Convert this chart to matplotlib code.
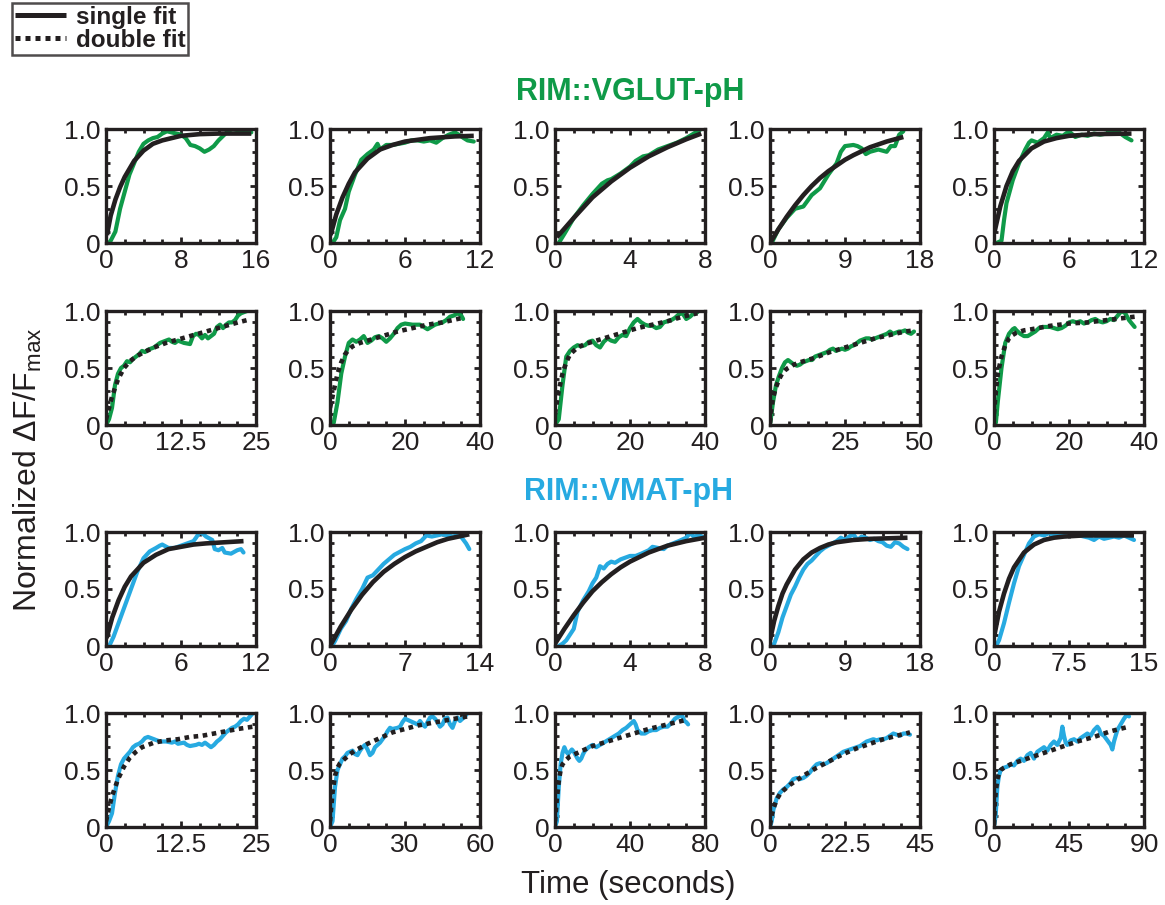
import matplotlib
matplotlib.use("Agg")
import matplotlib.pyplot as plt
from matplotlib.lines import Line2D
from matplotlib.ticker import MultipleLocator

plt.rcParams["font.family"] = ["Liberation Sans", "DejaVu Sans"]
plt.rcParams["mathtext.fontset"] = "custom"
plt.rcParams["mathtext.rm"] = "Liberation Sans"

GREEN = "#0f9a48"
BLUE = "#27aae1"
INK = "#231f20"

# ---------------- RIM::VGLUT-pH, single exponential fits ----------------
g1_t = [0.3, 0.5, 1, 1.5, 2, 2.5, 3, 3.5, 4, 4.5, 5, 5.5, 6, 6.5, 7, 7.5, 8, 8.5, 9, 9.5, 10, 10.5, 11, 11.5, 12, 12.5, 13, 13.5, 14, 14.5, 15, 15.5]
g1_y = [0, 0.02, 0.1, 0.3, 0.45, 0.6, 0.7, 0.8, 0.87, 0.9, 0.92, 0.93, 0.96, 0.98, 0.97, 0.96, 0.95, 0.92, 0.86, 0.85, 0.83, 0.8, 0.82, 0.85, 0.9, 0.94, 0.98, 1.0, 0.99, 0.98, 0.97, 0.97]
g1_fit_t = [0.1, 0.5, 1, 1.5, 2, 3, 4, 5, 6, 8, 10, 12, 15.5]
g1_fit_y = [0.07, 0.24, 0.38, 0.49, 0.58, 0.72, 0.81, 0.87, 0.9, 0.94, 0.955, 0.96, 0.96]

g2_t = [0.2, 0.5, 0.8, 1.2, 1.5, 2, 2.5, 3, 3.5, 3.8, 4, 4.5, 5, 5.5, 6, 6.5, 7, 7.5, 8, 8.5, 9, 9.5, 10, 10.3, 10.7, 11, 11.5]
g2_y = [0, 0.05, 0.2, 0.3, 0.45, 0.6, 0.73, 0.78, 0.82, 0.87, 0.82, 0.86, 0.86, 0.87, 0.88, 0.9, 0.9, 0.89, 0.9, 0.88, 0.92, 0.95, 0.97, 0.95, 0.92, 0.9, 0.89]
g2_fit_t = [0.05, 0.5, 1, 1.5, 2, 3, 4, 5, 6, 8, 10, 11.5]
g2_fit_y = [0.07, 0.25, 0.4, 0.52, 0.62, 0.74, 0.82, 0.86, 0.89, 0.92, 0.935, 0.94]

g3_t = [0.2, 0.5, 1, 1.5, 2, 2.5, 2.8, 3, 3.5, 4, 4.3, 4.7, 5, 5.5, 6, 6.5, 7, 7.5, 7.8]
g3_y = [0, 0.08, 0.22, 0.33, 0.43, 0.52, 0.55, 0.56, 0.61, 0.67, 0.72, 0.76, 0.77, 0.82, 0.85, 0.88, 0.92, 0.97, 1.0]
g3_fit_t = [0.1, 1, 2, 3, 4, 5, 6, 7, 7.8]
g3_fit_y = [0.05, 0.22, 0.4, 0.54, 0.66, 0.76, 0.84, 0.91, 0.96]

g4_t = [0.2, 1, 2, 3, 4, 5, 6, 7, 8, 8.5, 9, 10, 10.5, 11, 11.5, 12, 13, 14, 14.5, 15, 15.5, 16]
g4_y = [0, 0.12, 0.22, 0.3, 0.32, 0.42, 0.48, 0.6, 0.7, 0.8, 0.85, 0.86, 0.85, 0.83, 0.78, 0.8, 0.82, 0.8, 0.85, 0.85, 0.95, 0.98]
g4_fit_t = [0, 1, 2, 3, 4, 5, 6, 7, 8, 9, 10, 12, 14, 16]
g4_fit_y = [0, 0.12, 0.23, 0.33, 0.42, 0.5, 0.57, 0.63, 0.68, 0.73, 0.77, 0.84, 0.89, 0.93]

g5_t = [0.2, 0.6, 0.8, 1, 1.5, 2, 2.5, 2.8, 3, 3.5, 4, 4.3, 4.5, 5, 5.5, 6, 6.5, 7, 7.5, 8, 8.5, 9, 9.5, 10, 10.5, 11]
g5_y = [0, 0.02, 0.2, 0.35, 0.55, 0.7, 0.82, 0.88, 0.9, 0.88, 0.92, 0.97, 0.92, 0.95, 0.94, 0.98, 0.93, 0.95, 0.94, 0.96, 0.95, 0.96, 0.99, 0.97, 0.93, 0.9]
g5_fit_t = [0.05, 0.5, 1, 1.5, 2, 3, 4, 5, 6, 8, 11]
g5_fit_y = [0.1, 0.32, 0.5, 0.63, 0.72, 0.83, 0.89, 0.92, 0.94, 0.955, 0.96]

# ---------------- RIM::VGLUT-pH, double exponential fits ----------------
g6_t = [0, 0.5, 1, 1.5, 2, 2.5, 3, 3.5, 4, 4.5, 5, 5.5, 6, 6.5, 7, 8, 8.5, 9, 10, 10.5, 11, 11.5, 12, 13, 14, 14.5, 15, 15.5, 16, 16.5, 17, 18, 18.5, 19, 19.5, 20, 20.5, 21, 21.5, 22, 22.5, 23.5]
g6_y = [0, 0.05, 0.15, 0.35, 0.45, 0.5, 0.52, 0.56, 0.55, 0.58, 0.6, 0.62, 0.65, 0.64, 0.66, 0.68, 0.7, 0.72, 0.74, 0.75, 0.73, 0.72, 0.74, 0.72, 0.71, 0.78, 0.8, 0.79, 0.76, 0.79, 0.76, 0.8, 0.86, 0.88, 0.85, 0.88, 0.9, 0.9, 0.92, 0.96, 0.98, 1.0]
g6_fit_t = [0, 0.5, 1, 2, 3, 4, 5, 6, 8, 10, 12, 14, 16, 18, 20, 22, 23.5]
g6_fit_y = [0.05, 0.15, 0.25, 0.4, 0.5, 0.56, 0.6, 0.63, 0.68, 0.72, 0.75, 0.78, 0.81, 0.84, 0.87, 0.9, 0.92]

g7_t = [0, 1, 2, 3, 4, 5, 6, 7, 8, 9, 10, 11, 12, 13, 14, 15, 16, 17, 18, 19, 20, 22, 24, 25, 26, 27, 28, 29, 30, 31, 32, 33, 34, 35, 35.5]
g7_y = [0, 0.02, 0.2, 0.45, 0.6, 0.72, 0.75, 0.73, 0.75, 0.78, 0.72, 0.74, 0.77, 0.78, 0.76, 0.73, 0.76, 0.8, 0.85, 0.88, 0.89, 0.88, 0.88, 0.86, 0.84, 0.86, 0.88, 0.89, 0.9, 0.92, 0.95, 0.96, 0.98, 0.96, 0.93]
g7_fit_t = [0, 1, 2, 3, 4, 5, 6, 8, 10, 14, 18, 22, 26, 30, 34, 35.5]
g7_fit_y = [0.15, 0.3, 0.45, 0.55, 0.62, 0.66, 0.69, 0.72, 0.74, 0.78, 0.82, 0.85, 0.88, 0.9, 0.93, 0.94]

g8_t = [0, 1, 2, 3, 4, 5, 6, 7, 8, 9, 10, 11, 12, 13, 14, 15, 16, 17, 18, 19, 20, 21, 22, 23, 24, 25, 26, 27, 28, 29, 30, 31, 32, 33, 34, 35, 36, 37, 38]
g8_y = [0, 0.05, 0.35, 0.6, 0.65, 0.68, 0.7, 0.69, 0.7, 0.73, 0.74, 0.7, 0.68, 0.73, 0.76, 0.74, 0.73, 0.77, 0.79, 0.78, 0.85, 0.9, 0.93, 0.9, 0.88, 0.87, 0.87, 0.85, 0.86, 0.9, 0.91, 0.92, 0.94, 0.97, 0.98, 0.93, 0.95, 0.98, 0.99]
g8_fit_t = [0, 1, 2, 3, 4, 5, 6, 8, 10, 14, 18, 22, 26, 30, 34, 38]
g8_fit_y = [0.1, 0.3, 0.45, 0.55, 0.62, 0.65, 0.68, 0.71, 0.73, 0.77, 0.81, 0.85, 0.88, 0.91, 0.95, 0.98]

g9_t = [0, 1, 2, 3, 4, 5, 6, 7, 8, 9, 10, 11, 12, 13, 14, 15, 16, 17, 18, 19, 20, 21, 22, 23, 24, 25, 26, 27, 28, 29, 30, 31, 32, 33, 34, 35, 36, 37, 38, 39, 40, 41, 42, 43, 44, 45, 46, 47, 48]
g9_y = [0, 0.2, 0.35, 0.43, 0.5, 0.55, 0.57, 0.55, 0.53, 0.52, 0.53, 0.55, 0.56, 0.57, 0.57, 0.6, 0.61, 0.62, 0.63, 0.64, 0.66, 0.67, 0.65, 0.66, 0.67, 0.66, 0.67, 0.69, 0.7, 0.72, 0.74, 0.75, 0.76, 0.76, 0.75, 0.76, 0.77, 0.78, 0.79, 0.8, 0.82, 0.8, 0.81, 0.82, 0.82, 0.83, 0.81, 0.8, 0.82]
g9_fit_t = [0, 0.5, 1, 2, 3, 4, 5, 6, 8, 10, 15, 20, 25, 30, 35, 40, 45, 48]
g9_fit_y = [0.02, 0.15, 0.24, 0.33, 0.4, 0.45, 0.48, 0.5, 0.53, 0.55, 0.59, 0.64, 0.68, 0.72, 0.76, 0.79, 0.82, 0.83]

g10_t = [0, 0.5, 1, 2, 3, 4, 5, 5.5, 6, 7, 8, 9, 10, 11, 12, 13, 14, 15, 16, 17, 18, 19, 20, 21, 22, 23, 24, 25, 26, 27, 28, 29, 30, 31, 32, 33, 34, 35, 36, 37, 37.5]
g10_y = [0, 0.02, 0.2, 0.5, 0.72, 0.8, 0.84, 0.85, 0.83, 0.8, 0.78, 0.78, 0.8, 0.82, 0.85, 0.86, 0.86, 0.86, 0.85, 0.84, 0.85, 0.87, 0.9, 0.91, 0.9, 0.91, 0.89, 0.9, 0.92, 0.93, 0.91, 0.9, 0.91, 0.93, 0.92, 0.96, 1.0, 0.98, 0.92, 0.88, 0.86]
g10_fit_t = [0, 0.5, 1, 2, 3, 4, 5, 6, 8, 10, 15, 20, 25, 30, 35, 37.5]
g10_fit_y = [0.1, 0.3, 0.45, 0.6, 0.7, 0.76, 0.79, 0.81, 0.83, 0.84, 0.87, 0.89, 0.9, 0.92, 0.94, 0.95]

# ---------------- RIM::VMAT-pH, single exponential fits ----------------
b1_t = [0, 0.3, 0.6, 1, 1.5, 2, 2.5, 3, 3.5, 4, 4.3, 4.5, 5, 5.5, 6, 6.5, 7, 7.2, 7.5, 7.8, 8, 8.5, 8.7, 9, 9.3, 9.5, 10, 10.5, 10.8, 11]
b1_y = [0, 0.01, 0.08, 0.2, 0.35, 0.5, 0.65, 0.77, 0.83, 0.86, 0.88, 0.89, 0.86, 0.86, 0.88, 0.9, 0.92, 0.95, 1.0, 0.98, 0.96, 0.93, 0.85, 0.84, 0.86, 0.82, 0.81, 0.84, 0.85, 0.82]
b1_fit_t = [0.05, 0.5, 1, 1.5, 2, 3, 4, 5, 6, 7, 8, 9.5, 11]
b1_fit_y = [0.07, 0.25, 0.4, 0.52, 0.61, 0.73, 0.8, 0.85, 0.87, 0.89, 0.9, 0.91, 0.92]

b2_t = [0.2, 0.5, 1, 1.5, 2, 2.5, 3, 3.5, 4, 4.5, 5, 5.5, 6, 7, 7.5, 8, 8.5, 9, 9.5, 10, 10.5, 11, 11.5, 12, 12.3, 12.7, 13]
b2_y = [0, 0.05, 0.15, 0.22, 0.33, 0.42, 0.5, 0.6, 0.62, 0.67, 0.72, 0.76, 0.8, 0.85, 0.87, 0.9, 0.92, 0.97, 0.96, 0.97, 0.98, 0.97, 0.96, 0.98, 0.95, 0.9, 0.85]
b2_fit_t = [0, 1, 2, 3, 4, 5, 6, 7, 8, 9, 10, 11, 12, 13]
b2_fit_y = [0, 0.17, 0.32, 0.45, 0.56, 0.65, 0.72, 0.78, 0.83, 0.87, 0.91, 0.94, 0.96, 0.98]

b3_t = [0.2, 0.4, 0.6, 0.8, 1, 1.2, 1.5, 1.8, 2, 2.2, 2.4, 2.6, 2.8, 3, 3.2, 3.5, 4, 4.3, 4.6, 5, 5.2, 5.5, 5.8, 6, 6.3, 6.6, 7, 7.2, 7.4, 7.7, 8]
b3_y = [0, 0.02, 0.05, 0.1, 0.15, 0.3, 0.4, 0.48, 0.55, 0.6, 0.7, 0.68, 0.72, 0.74, 0.73, 0.76, 0.79, 0.79, 0.81, 0.84, 0.87, 0.86, 0.85, 0.88, 0.9, 0.92, 0.95, 0.99, 0.96, 0.97, 0.95]
b3_fit_t = [0, 0.5, 1, 1.5, 2, 2.5, 3, 3.5, 4, 5, 6, 7, 8]
b3_fit_y = [0.02, 0.15, 0.27, 0.38, 0.48, 0.56, 0.63, 0.69, 0.74, 0.82, 0.88, 0.92, 0.95]

b4_t = [0.2, 0.5, 1, 1.5, 2, 2.5, 3, 3.5, 4, 4.5, 5, 5.5, 6, 6.5, 7, 7.5, 8, 8.5, 9, 9.5, 10, 10.5, 11, 11.5, 12, 12.5, 13, 13.5, 14, 14.5, 15, 15.5, 16, 16.5]
b4_y = [0, 0.02, 0.12, 0.25, 0.35, 0.45, 0.52, 0.6, 0.67, 0.72, 0.75, 0.79, 0.83, 0.86, 0.88, 0.9, 0.92, 0.95, 0.93, 0.96, 0.98, 0.93, 0.96, 0.95, 0.93, 0.94, 0.92, 0.91, 0.88, 0.87, 0.91, 0.9, 0.87, 0.85]
b4_fit_t = [0, 0.5, 1, 1.5, 2, 3, 4, 5, 6, 7, 8, 10, 12, 16.5]
b4_fit_y = [0.05, 0.22, 0.35, 0.46, 0.54, 0.67, 0.76, 0.82, 0.86, 0.89, 0.91, 0.93, 0.94, 0.95]

b5_t = [0.2, 0.5, 1, 1.5, 2, 2.5, 3, 3.5, 4, 4.5, 5, 5.5, 6, 6.5, 7, 7.5, 8, 8.5, 9, 9.5, 10, 10.5, 11, 11.5, 12, 12.5, 13, 13.5, 14]
b5_y = [0, 0.05, 0.2, 0.38, 0.55, 0.7, 0.8, 0.9, 0.96, 0.98, 0.97, 0.99, 0.97, 0.98, 0.99, 1.0, 0.99, 0.97, 0.96, 0.95, 0.93, 0.96, 0.94, 0.95, 0.96, 0.95, 0.97, 0.95, 0.93]
b5_fit_t = [0.05, 0.5, 1, 1.5, 2, 3, 4, 5, 6, 7, 9, 11, 14]
b5_fit_y = [0.1, 0.3, 0.46, 0.59, 0.69, 0.82, 0.89, 0.93, 0.95, 0.96, 0.97, 0.97, 0.97]

# ---------------- RIM::VMAT-pH, double exponential fits ----------------
b6_t = [0, 0.5, 1, 1.5, 2, 2.5, 3, 3.5, 4, 4.5, 5, 5.5, 6, 6.5, 7, 7.5, 8, 8.5, 9, 10, 11, 11.5, 12, 13, 13.5, 14, 15, 15.5, 16, 16.5, 17, 17.5, 18, 18.5, 19, 19.5, 20, 20.5, 21, 21.5, 22, 22.5, 23, 23.5, 24, 24.5]
b6_y = [0, 0.05, 0.12, 0.3, 0.45, 0.55, 0.6, 0.63, 0.66, 0.7, 0.72, 0.73, 0.75, 0.78, 0.79, 0.78, 0.77, 0.76, 0.75, 0.75, 0.74, 0.75, 0.73, 0.74, 0.72, 0.71, 0.72, 0.73, 0.72, 0.74, 0.72, 0.7, 0.72, 0.75, 0.77, 0.8, 0.83, 0.85, 0.87, 0.88, 0.9, 0.93, 0.95, 0.94, 0.97, 1.0]
b6_fit_t = [0, 0.5, 1, 2, 3, 4, 5, 6, 7, 8, 10, 12, 14, 16, 18, 20, 22, 24.5]
b6_fit_y = [0.05, 0.17, 0.27, 0.42, 0.53, 0.61, 0.66, 0.7, 0.72, 0.74, 0.76, 0.77, 0.79, 0.8, 0.82, 0.84, 0.86, 0.88]

b7_t = [0, 1, 2, 3, 4, 5, 6, 7, 8, 9, 10, 11, 12, 13, 14, 15, 16, 17, 18, 20, 21, 22, 23, 24, 25, 27, 28, 29, 30, 31, 32, 33, 34, 35, 36, 37, 38, 39, 40, 41, 42, 43, 44, 45, 46, 47, 48, 49, 50, 51, 52, 53, 54, 55]
b7_y = [0, 0.05, 0.35, 0.5, 0.55, 0.6, 0.62, 0.65, 0.66, 0.67, 0.64, 0.63, 0.67, 0.7, 0.72, 0.68, 0.63, 0.65, 0.7, 0.74, 0.77, 0.8, 0.84, 0.87, 0.86, 0.87, 0.88, 0.92, 0.95, 0.94, 0.93, 0.92, 0.91, 0.9, 0.93, 0.9, 0.88, 0.92, 0.96, 0.97, 0.95, 0.92, 0.88, 0.9, 0.95, 0.96, 0.9, 0.87, 0.93, 0.96, 0.93, 0.95, 0.97, 1.0]
b7_fit_t = [0, 1, 2, 3, 4, 6, 8, 10, 15, 20, 25, 30, 35, 40, 45, 50, 55]
b7_fit_y = [0.05, 0.3, 0.45, 0.52, 0.56, 0.6, 0.64, 0.67, 0.73, 0.78, 0.83, 0.86, 0.89, 0.91, 0.93, 0.95, 0.97]

b8_t = [0, 1, 2, 3, 4, 5, 6, 7, 8, 9, 10, 11, 12, 13, 14, 15, 16, 18, 20, 22, 24, 26, 28, 30, 32, 34, 36, 38, 40, 42, 43, 44, 46, 48, 50, 52, 54, 56, 58, 60, 62, 64, 66, 67, 68, 69, 70, 71]
b8_y = [0, 0.05, 0.35, 0.55, 0.65, 0.7, 0.66, 0.64, 0.66, 0.68, 0.66, 0.63, 0.6, 0.58, 0.6, 0.64, 0.67, 0.7, 0.72, 0.7, 0.72, 0.74, 0.76, 0.78, 0.8, 0.82, 0.85, 0.87, 0.9, 0.93, 0.9, 0.85, 0.82, 0.82, 0.84, 0.85, 0.85, 0.87, 0.88, 0.88, 0.91, 0.95, 0.97, 0.99, 0.97, 0.93, 0.92, 0.9]
b8_fit_t = [0, 1, 2, 3, 4, 6, 8, 12, 16, 20, 30, 40, 50, 60, 70]
b8_fit_y = [0.05, 0.25, 0.4, 0.5, 0.55, 0.59, 0.62, 0.65, 0.68, 0.71, 0.76, 0.81, 0.86, 0.9, 0.94]

b9_t = [0, 0.5, 1, 2, 3, 4, 5, 6, 7, 8, 9, 10, 11, 12, 13, 14, 15, 16, 17, 18, 19, 20, 21, 22, 23, 24, 25, 26, 27, 28, 29, 30, 31, 32, 33, 34, 35, 36, 37, 38, 39, 40, 41, 42]
b9_y = [0, 0.05, 0.15, 0.25, 0.3, 0.33, 0.35, 0.38, 0.42, 0.43, 0.42, 0.43, 0.45, 0.48, 0.52, 0.55, 0.56, 0.55, 0.56, 0.58, 0.6, 0.62, 0.64, 0.66, 0.67, 0.68, 0.69, 0.7, 0.71, 0.73, 0.75, 0.76, 0.77, 0.76, 0.77, 0.77, 0.78, 0.8, 0.82, 0.81, 0.8, 0.82, 0.82, 0.81]
b9_fit_t = [0, 0.5, 1, 2, 3, 4, 6, 8, 10, 14, 18, 22, 26, 30, 34, 38, 42]
b9_fit_y = [0.02, 0.1, 0.16, 0.24, 0.29, 0.32, 0.37, 0.41, 0.45, 0.52, 0.58, 0.64, 0.69, 0.73, 0.77, 0.8, 0.83]

b10_t = [0, 1, 2, 3, 4, 6, 8, 10, 12, 14, 16, 18, 20, 22, 24, 26, 28, 30, 32, 34, 36, 38, 40, 41, 42, 43, 44, 46, 48, 50, 52, 54, 56, 58, 60, 62, 63, 64, 66, 68, 70, 71, 72, 74, 76, 78, 80, 81]
b10_y = [0, 0.1, 0.35, 0.45, 0.5, 0.52, 0.53, 0.55, 0.54, 0.58, 0.6, 0.58, 0.63, 0.65, 0.6, 0.66, 0.68, 0.7, 0.67, 0.72, 0.75, 0.72, 0.78, 0.88, 0.8, 0.74, 0.72, 0.76, 0.77, 0.75, 0.78, 0.8, 0.82, 0.8, 0.85, 0.88, 0.86, 0.82, 0.8, 0.76, 0.72, 0.68, 0.75, 0.85, 0.9, 0.95, 0.99, 0.97]
b10_fit_t = [0, 0.5, 1, 2, 3, 4, 6, 10, 20, 30, 40, 50, 60, 70, 81]
b10_fit_y = [0.02, 0.2, 0.3, 0.42, 0.47, 0.5, 0.52, 0.55, 0.6, 0.65, 0.7, 0.75, 0.79, 0.84, 0.88]

# x-axis maxima of each panel, row by row
row1_xmax = [16, 12, 8, 18, 12]
row2_xmax = [25, 40, 40, 50, 40]
row3_xmax = [12, 14, 8, 18, 15]
row4_xmax = [25, 60, 80, 45, 90]

rows = [
    (GREEN, "single", row1_xmax, [(g1_t, g1_y, g1_fit_t, g1_fit_y), (g2_t, g2_y, g2_fit_t, g2_fit_y),
                                  (g3_t, g3_y, g3_fit_t, g3_fit_y), (g4_t, g4_y, g4_fit_t, g4_fit_y),
                                  (g5_t, g5_y, g5_fit_t, g5_fit_y)]),
    (GREEN, "double", row2_xmax, [(g6_t, g6_y, g6_fit_t, g6_fit_y), (g7_t, g7_y, g7_fit_t, g7_fit_y),
                                  (g8_t, g8_y, g8_fit_t, g8_fit_y), (g9_t, g9_y, g9_fit_t, g9_fit_y),
                                  (g10_t, g10_y, g10_fit_t, g10_fit_y)]),
    (BLUE, "single", row3_xmax, [(b1_t, b1_y, b1_fit_t, b1_fit_y), (b2_t, b2_y, b2_fit_t, b2_fit_y),
                                 (b3_t, b3_y, b3_fit_t, b3_fit_y), (b4_t, b4_y, b4_fit_t, b4_fit_y),
                                 (b5_t, b5_y, b5_fit_t, b5_fit_y)]),
    (BLUE, "double", row4_xmax, [(b6_t, b6_y, b6_fit_t, b6_fit_y), (b7_t, b7_y, b7_fit_t, b7_fit_y),
                                 (b8_t, b8_y, b8_fit_t, b8_fit_y), (b9_t, b9_y, b9_fit_t, b9_fit_y),
                                 (b10_t, b10_y, b10_fit_t, b10_fit_y)]),
]

W, H = 1165, 905
fig = plt.figure(figsize=(W / 100, H / 100), dpi=100)

col_left = [106, 330, 555, 770, 994]
row_top = [129, 311, 532, 713]
ax_w, ax_h = 150, 114

DOTTED = (0, (1, 1))

def fmt(v):
    return f"{v:g}"

for r, (color, kind, xmaxes, panels) in enumerate(rows):
    for c, (t, y, ft, fy) in enumerate(panels):
        x0 = col_left[c] / W
        y0 = 1 - (row_top[r] + ax_h) / H
        ax = fig.add_axes([x0, y0, ax_w / W, ax_h / H])
        xmax = xmaxes[c]
        ax.plot(t, y, color=color, lw=3.0, solid_joinstyle="round", solid_capstyle="round", zorder=2)
        if kind == "single":
            ax.plot(ft, fy, color=INK, lw=3.3, solid_capstyle="butt", zorder=3)
        else:
            ax.plot(ft, fy, color=INK, lw=3.3, linestyle=DOTTED, dash_capstyle="butt", zorder=3)
        ax.set_xlim(0, xmax)
        ax.set_ylim(0, 1)
        ax.set_xticks([0, xmax / 2, xmax])
        ax.set_xticklabels([fmt(0), fmt(xmax / 2), fmt(xmax)])
        ax.set_yticks([0, 0.5, 1.0])
        ax.set_yticklabels(["0", "0.5", "1.0"])
        ax.xaxis.set_minor_locator(MultipleLocator(xmax / 8))
        ax.yaxis.set_minor_locator(MultipleLocator(0.1))
        ax.tick_params(which="both", direction="in", top=True, right=True,
                       width=2.0, color=INK, labelsize=19, labelcolor=INK)
        ax.tick_params(which="major", length=4, pad=4)
        ax.tick_params(which="minor", length=3)
        for sp in ax.spines.values():
            sp.set_linewidth(2.4)
            sp.set_color(INK)

fig.text(630 / W, 1 - 92 / H, "RIM::VGLUT-pH", color=GREEN, fontsize=22,
         fontweight="bold", ha="center", va="center")
fig.text(628 / W, 1 - 492 / H, "RIM::VMAT-pH", color=BLUE, fontsize=22,
         fontweight="bold", ha="center", va="center")
fig.text(628 / W, 1 - 885 / H, "Time (seconds)", color=INK, fontsize=22.5,
         ha="center", va="center")
fig.text(28 / W, 1 - 470 / H, r"Normalized ΔF/F$_{\mathregular{max}}$", color=INK,
         fontsize=23, rotation=90, ha="center", va="center")

handles = [Line2D([], [], color=INK, lw=3.6, solid_capstyle="butt"),
           Line2D([], [], color=INK, lw=3.6, linestyle=DOTTED, dash_capstyle="butt")]
leg = fig.legend(handles, ["single fit", "double fit"], loc="upper left",
                 bbox_to_anchor=(12 / W, 1 - 3 / H), bbox_transform=fig.transFigure,
                 prop={"weight": "bold", "size": 17.5}, frameon=True, fancybox=False,
                 borderpad=0.12, labelspacing=0.0, handlelength=2.1, handletextpad=0.4,
                 borderaxespad=0)
leg.get_frame().set_edgecolor(INK)
leg.get_frame().set_linewidth(1.8)
for txt in leg.get_texts():
    txt.set_color(INK)

fig.savefig("out.png", dpi=100)
